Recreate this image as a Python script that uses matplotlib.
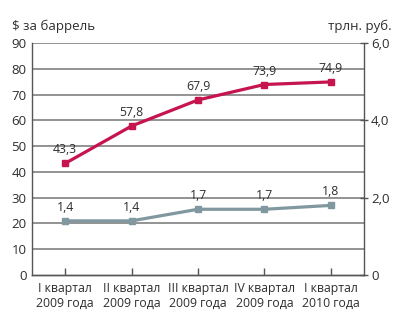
import numpy as np
import matplotlib.pyplot as plt

plt.rcParams['font.family'] = ['Open Sans', 'DejaVu Sans']

quarters = ['I квартал\n2009 года', 'II квартал\n2009 года', 'III квартал\n2009 года',
            'IV квартал\n2009 года', 'I квартал\n2010 года']
oil_price = [43.3, 57.8, 67.9, 73.9, 74.9]      # $ за баррель, left axis
revenue = [1.4, 1.4, 1.7, 1.7, 1.8]             # трлн. руб., right axis

red = '#C5144E'
grey = '#8198A1'
text_c = '#2e2e2e'

fig = plt.figure(figsize=(4.06, 3.23), dpi=100)
ax = fig.add_axes([32 / 406, 48 / 323, 332 / 406, 232 / 323])
ax2 = ax.twinx()

x = np.arange(len(quarters))

ax.set_xlim(-0.5, 4.5)
ax.set_ylim(0, 90)
ax2.set_ylim(0, 6)

# horizontal grid
for v in range(10, 91, 10):
    ax.axhline(v, color='#8a8a8a', lw=1.3, zorder=1)

ax.plot(x, oil_price, color=red, lw=2.3, marker='s', ms=5, zorder=3, clip_on=False)
ax2.plot(x, revenue, color=grey, lw=2.3, marker='s', ms=5, zorder=3, clip_on=False)

for xi, v in zip(x, oil_price):
    ax.annotate(f'{v:.1f}'.replace('.', ','), (xi, v), xytext=(0, 5),
                textcoords='offset points', ha='center', va='bottom',
                fontsize=8.8, color=text_c)
for xi, v in zip(x, revenue):
    ax2.annotate(f'{v:.1f}'.replace('.', ','), (xi, v), xytext=(0, 5),
                 textcoords='offset points', ha='center', va='bottom',
                 fontsize=8.8, color=text_c)

ax.set_yticks(range(0, 91, 10))
ax.tick_params(axis='y', length=0, labelsize=9.5, colors=text_c, pad=4)
ax.set_xticks(x)
ax.set_xticklabels(quarters, fontsize=8.8, color=text_c)
ax.tick_params(axis='x', direction='in', length=5, width=1, color='#555555', pad=5)

ax2.set_yticks([0, 2, 4, 6])
ax2.set_yticklabels(['0', '2,0', '4,0', '6,0'])
ax2.tick_params(axis='y', direction='inout', length=6, width=1, color='#555555',
                labelsize=9.5, labelcolor=text_c, pad=2)

for a in (ax, ax2):
    a.spines['top'].set_visible(False)
    for side in ('left', 'right', 'bottom'):
        a.spines[side].set_color('#555555')
        a.spines[side].set_linewidth(1)
ax.spines['right'].set_visible(False)
ax2.spines['left'].set_visible(False)

fig.text(12 / 406, 1 - 26 / 323, '$ за баррель', fontsize=9.5, color=text_c, va='center')
fig.text(392 / 406, 1 - 26 / 323, 'трлн. руб.', fontsize=9.5, color=text_c, va='center', ha='right')

fig.savefig('out.png', dpi=100)
